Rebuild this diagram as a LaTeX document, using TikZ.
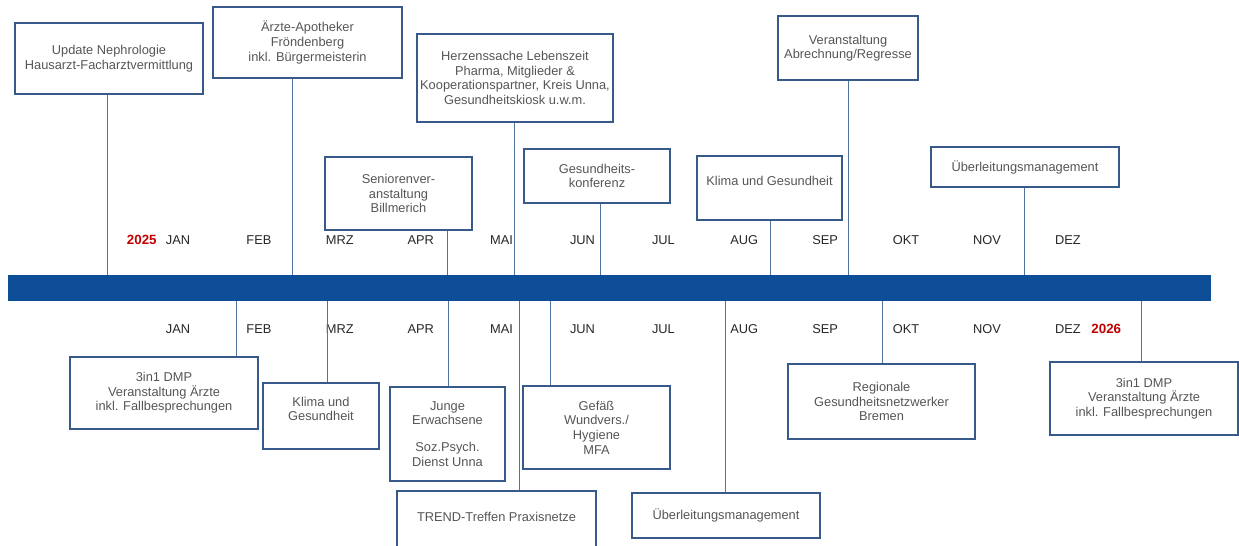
\documentclass[tikz,border=0pt]{standalone}
\usepackage{fontspec}
\setmainfont{Liberation Sans}
\usepackage{xcolor}
\usepackage{tikz}
\usetikzlibrary{positioning}

\definecolor{barblue}{RGB}{14,78,150}
\definecolor{frameblue}{RGB}{55,90,138}
\definecolor{stemblue}{RGB}{80,115,158}
\definecolor{txtgray}{RGB}{85,85,85}
\definecolor{yearred}{RGB}{192,0,0}

\begin{document}
\begin{tikzpicture}[x=0.02cm, y=-0.02cm,
    evbox/.style 2 args={draw=frameblue, line width=0.6pt, align=center, text=txtgray,
      minimum width={#1*0.02cm}, minimum height={#2*0.02cm}, inner sep=1pt,
      font=\fontsize{7.3}{8.3}\selectfont},
    stem/.style={draw=stemblue, line width=0.55pt},
    month/.style={text=black!85, inner sep=1pt, font=\fontsize{7.3}{8.3}\selectfont},
    yearlbl/.style={text=yearred, inner sep=1pt, font=\bfseries\fontsize{7.6}{8.3}\selectfont}]
        \useasboundingbox (0,0) rectangle (1239,546);
        \clip (0,0) rectangle (1239,546);

        \node[fill=barblue, inner sep=0pt, minimum width={1203*0.02cm}, minimum height={26*0.02cm}] (bar) at (609.5,288) {};

        \foreach \m [count=\i from 0] in {JAN,FEB,MRZ,APR,MAI,JUN,JUL,AUG,SEP,OKT,NOV,DEZ} {
            \node[month] (top\m) at ({178+80.9*\i},240) {\m};
            \node[month] (bot\m) at ({178+80.9*\i},329) {\m};
        }
        \node[yearlbl, left=0.1cm of topJAN] (y2025) {2025};
        \node[yearlbl, right=0.13cm of botDEZ] (y2026) {2026};

        % oben
        \node[evbox={188}{71}] (u1) at (109,58.5) {Update Nephrologie\\Hausarzt-Facharztvermittlung};
        \node[evbox={189}{71}] (u2) at (307.5,42.5) {Ärzte-Apotheker\\Fröndenberg\\inkl. Bürgermeisterin};
        \node[evbox={196}{88}] (u3) at (515,78) {Herzenssache Lebenszeit\\Pharma, Mitglieder \&\\Kooperationspartner, Kreis Unna,\\Gesundheitskiosk u.w.m.};
        \node[evbox={147}{73}] (u4) at (398.5,193.5) {Seniorenver-\\anstaltung\\Billmerich};
        \node[evbox={146}{54}] (u5) at (597,176) {Gesundheits-\\konferenz};
        \node[evbox={145}{64}] (u6) at (769.5,188) {Klima und Gesundheit\\ \mbox{}};
        \node[evbox={140}{64}] (u7) at (848,48) {Veranstaltung\\Abrechnung/Regresse};
        \node[evbox={188}{40}] (u8) at (1025,167) {Überleitungsmanagement};

        % unten
        \node[evbox={188}{72}] (d1) at (164,393) {3in1 DMP\\Veranstaltung Ärzte\\inkl. Fallbesprechungen};
        \node[evbox={116}{66}] (d2) at (321,416) {Klima und\\Gesundheit\\ \mbox{}};
        \node[evbox={115}{94}] (d3) at (447.5,434) {Junge\\Erwachsene\\[7pt]Soz.Psych.\\Dienst Unna};
        \node[evbox={199}{66}] (d4) at (496.5,524) {TREND-Treffen Praxisnetze\\ \mbox{}};
        \node[evbox={147}{83}] (d5) at (596.5,427.5) {Gefäß\\Wundvers./\\Hygiene\\MFA};
        \node[evbox={188}{45}] (d6) at (726,515.5) {Überleitungsmanagement};
        \node[evbox={187}{75}] (d7) at (881.5,401.5) {Regionale\\Gesundheitsnetzwerker\\Bremen};
        \node[evbox={188}{73}] (d8) at (1144,398.5) {3in1 DMP\\Veranstaltung Ärzte\\inkl. Fallbesprechungen};

        \foreach \n/\x in {u1/107,u2/292,u3/514,u4/447,u5/600,u6/770,u7/848,u8/1024} {
            \coordinate (s\n) at (\x,288);
            \draw[stem] (\n.south -| s\n) -- (bar.north -| s\n);
        }
        \foreach \n/\x in {d1/236,d2/327,d3/448,d4/519,d5/550,d6/725,d7/882,d8/1141} {
            \coordinate (s\n) at (\x,288);
            \draw[stem] (bar.south -| s\n) -- (\n.north -| s\n);
        }
      \end{tikzpicture}
\end{document}
